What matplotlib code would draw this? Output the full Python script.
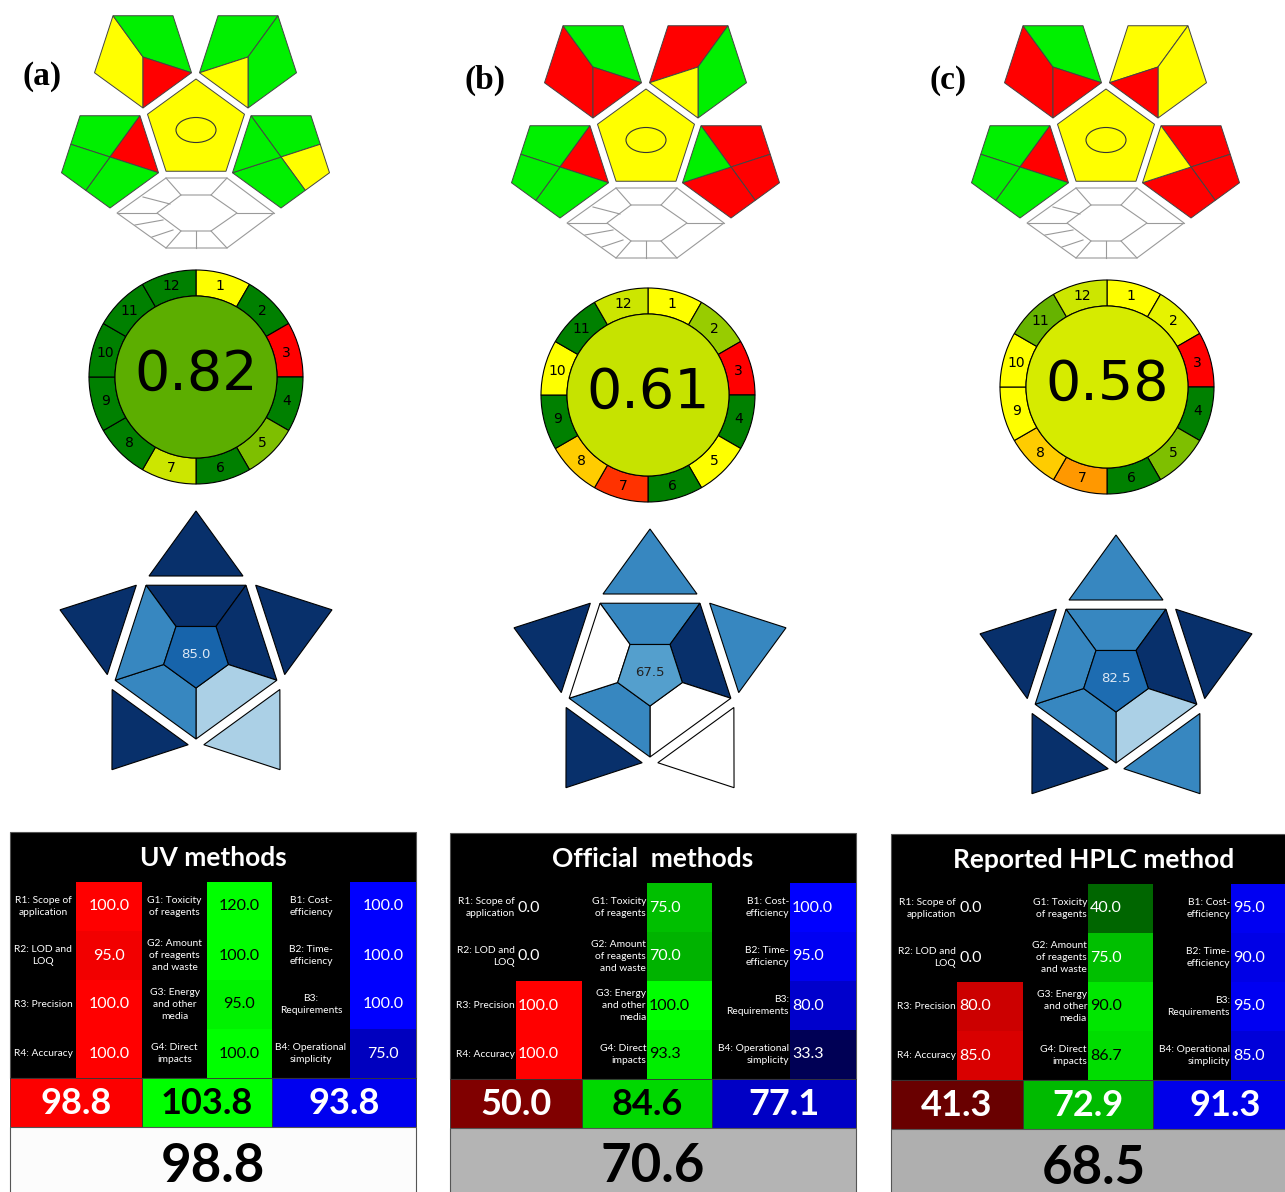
import numpy as np
import matplotlib
matplotlib.use("Agg")
import matplotlib.pyplot as plt
from matplotlib.patches import Polygon, Circle, Wedge, Ellipse, Rectangle
from matplotlib.colors import LinearSegmentedColormap


# ---------------- values ----------------
panel_labels = ["(a)", "(b)", "(c)"]

# GAPI pictograms, g = green, y = yellow, r = red
gapi_top_left = [["y", "g", "r"], ["r", "g", "r"], ["r", "g", "r"]]        # left, top, lower right
gapi_top_right = [["g", "g", "y"], ["r", "g", "y"], ["y", "y", "r"]]       # top, right, lower left
gapi_bottom_left = [["g", "r", "g", "g"], ["g", "r", "g", "g"],
                    ["g", "r", "g", "g"]]                                    # top, wedge, lower right, left
gapi_bottom_right = [["g", "y", "g", "g"], ["r", "r", "r", "g"],
                     ["r", "r", "r", "y"]]                                   # top, right, bottom, wedge
gapi_centre = ["y", "y", "y"]

# AGREE criteria 1..12 and the overall score
agree_a = [0.5, 1.0, 0.0, 1.0, 0.75, 1.0, 0.6, 1.0, 1.0, 1.0, 1.0, 1.0]
agree_b = [0.5, 0.7, 0.0, 1.0, 0.5, 1.0, 0.1, 0.4, 1.0, 0.5, 1.0, 0.6]
agree_c = [0.5, 0.55, 0.0, 1.0, 0.75, 1.0, 0.3, 0.4, 0.5, 0.5, 0.8, 0.6]
agree_total = [0.82, 0.61, 0.58]

# BAGI points, order: top, upper right, lower right, lower left, upper left
bagi_tips_a = [10, 10, 5, 10, 10]
bagi_ring_a = [10, 10, 5, 7.5, 7.5]
bagi_tips_b = [7.5, 7.5, 2.5, 10, 10]
bagi_ring_b = [7.5, 10, 2.5, 7.5, 2.5]
bagi_tips_c = [7.5, 10, 7.5, 10, 10]
bagi_ring_c = [7.5, 10, 5, 7.5, 7.5]
bagi_total = [85.0, 67.5, 82.5]

# RGB 12 tables
rgb_titles = ["UV methods", "Official  methods", "Reported HPLC method"]
red_labels = ["R1: Scope of\napplication", "R2: LOD and\nLOQ", "R3: Precision",
              "R4: Accuracy"]
green_labels = ["G1: Toxicity\nof reagents", "G2: Amount\nof reagents\nand waste",
                "G3: Energy\nand other\nmedia", "G4: Direct\nimpacts"]
blue_labels = ["B1: Cost-\nefficiency", "B2: Time-\nefficiency", "B3:\nRequirements",
               "B4: Operational\nsimplicity"]
red_a = [100.0, 95.0, 100.0, 100.0]
green_a = [120.0, 100.0, 95.0, 100.0]
blue_a = [100.0, 100.0, 100.0, 75.0]
red_b = [0.0, 0.0, 100.0, 100.0]
green_b = [75.0, 70.0, 100.0, 93.3]
blue_b = [100.0, 95.0, 80.0, 33.3]
red_c = [0.0, 0.0, 80.0, 85.0]
green_c = [40.0, 75.0, 90.0, 86.7]
blue_c = [95.0, 90.0, 95.0, 85.0]
red_mean = [98.8, 50.0, 41.3]
green_mean = [103.8, 84.6, 72.9]
blue_mean = [93.8, 77.1, 91.3]
whiteness = [98.8, 70.6, 68.5]


# ---------------- layout (pixels) ----------------
W, H = 1285, 1192
gapi_shift = [(0, 0), (450, 10), (910, 10)]
label_pos = [(42, 77), (485, 80), (948, 80)]
agree_xy = [(196, 377), (648, 395), (1107, 387)]
bagi_xy = [(196, 654), (650, 672), (1116, 678)]
table_xy = [(10, 832), (450, 833), (891, 834)]
col_w = [66, 66, 65, 65, 78, 66]

GAPI_COL = {"g": "#00f000", "y": "#ffff00", "r": "#ff0000"}
agree_cmap = LinearSegmentedColormap.from_list(
    "agree", [(0.0, "#ff0000"), (0.5, "#ffff00"), (1.0, "#008000")])
blues = plt.get_cmap("Blues")
TABLE_FONT = "Lato"

fig = plt.figure(figsize=(W / 100, H / 100), dpi=100)
ax = fig.add_axes([0, 0, 1, 1])
ax.set_xlim(0, W)
ax.set_ylim(H, 0)
ax.axis("off")


def pent(c, r, angles):
    a = np.radians(angles)
    return [np.array([c[0] + r * np.cos(t), c[1] + r * np.sin(t)]) for t in a]


DOWN = [234, 306, 18, 90, 162]   # tl, tr, right, bottom, left (y axis points down)
UP = [270, 342, 54, 126, 198]


def poly(pts, fc, ec="#444444", lw=0.7, z=2):
    ax.add_patch(Polygon(np.array(pts), closed=True, facecolor=fc,
                         edgecolor=ec, linewidth=lw, zorder=z))


def bagi_colour(pts):
    # lowest grade is drawn plain white
    if pts <= 2.5:
        return "white"
    return blues((pts - 2.5) / 7.5)


def draw_gapi(k):
    dx, dy = gapi_shift[k]
    r = 51
    # top left
    c = np.array([143 + dx, 57 + dy])
    v = pent(c, r, DOWN)
    cols = [GAPI_COL[s] for s in gapi_top_left[k]]
    poly([v[0], c, v[3], v[4]], cols[0])
    poly([v[0], v[1], v[2], c], cols[1])
    poly([c, v[2], v[3]], cols[2])
    # top right
    c = np.array([248 + dx, 57 + dy])
    v = pent(c, r, DOWN)
    cols = [GAPI_COL[s] for s in gapi_top_right[k]]
    poly([v[0], v[1], c, v[4]], cols[0])
    poly([c, v[1], v[2], v[3]], cols[1])
    poly([c, v[3], v[4]], cols[2])
    # bottom left
    c = np.array([110 + dx, 157 + dy])
    v = pent(c, r, DOWN)
    m40 = (v[4] + v[0]) / 2
    m34 = (v[3] + v[4]) / 2
    cols = [GAPI_COL[s] for s in gapi_bottom_left[k]]
    poly([v[0], v[1], c, m40], cols[0])
    poly([c, v[1], v[2]], cols[1])
    poly([c, v[2], v[3], m34], cols[2])
    poly([m40, c, m34, v[4]], cols[3])
    # bottom right
    c = np.array([281 + dx, 157 + dy])
    v = pent(c, r, DOWN)
    m12 = (v[1] + v[2]) / 2
    m23 = (v[2] + v[3]) / 2
    cols = [GAPI_COL[s] for s in gapi_bottom_right[k]]
    poly([v[0], v[1], m12, c], cols[0])
    poly([c, m12, v[2], m23], cols[1])
    poly([c, m23, v[3], v[4]], cols[2])
    poly([v[0], c, v[4]], cols[3])
    # centre
    c = np.array([196 + dx, 130 + dy])
    poly(pent(c, r, UP), GAPI_COL[gapi_centre[k]])
    ax.add_patch(Ellipse(c, 40, 25, facecolor="none", edgecolor="#333333",
                         linewidth=0.8, zorder=3))
    # hexagon (white)
    hx, hy = 196 + dx, 213 + dy
    outer = [(hx - 30, hy - 35), (hx + 31, hy - 35), (hx + 78, hy), (hx + 31, hy + 35),
             (hx - 30, hy + 35), (hx - 79, hy)]
    inner = [(hx - 15, hy - 18), (hx + 15, hy - 18), (hx + 41, hy), (hx + 15, hy + 18),
             (hx - 15, hy + 18), (hx - 39, hy)]
    poly(outer, "white", ec="#9a9a9a", lw=0.8)
    poly(inner, "white", ec="#9a9a9a", lw=0.8)
    for p, q in zip(outer, inner):
        ax.plot([p[0], q[0]], [p[1], q[1]], color="#9a9a9a", lw=0.8, zorder=3)
    for (x1, y1, x2, y2) in [(-53, -16, -26, -9), (-61, 12, -33, 7),
                             (-44, 24, -23, 17), (0, 18, 0, 35)]:
        ax.plot([hx + x1, hx + x2], [hy + y1, hy + y2], color="#9a9a9a", lw=0.8, zorder=3)
    ax.text(label_pos[k][0], label_pos[k][1], panel_labels[k], fontsize=24,
            family="Liberation Serif", weight="bold", ha="center", va="center")


def draw_agree(k, scores):
    cx, cy = agree_xy[k]
    r_out, r_in = 107, 81
    for i, s in enumerate(scores):
        t1 = -90 + 30 * i
        ax.add_patch(Wedge((cx, cy), r_out, t1, t1 + 30, width=r_out - r_in,
                           facecolor=agree_cmap(s), edgecolor="black",
                           linewidth=0.8, zorder=2))
        a = np.radians(t1 + 15)
        rm = (r_out + r_in) / 2
        ax.text(cx + rm * np.cos(a), cy + rm * np.sin(a), str(i + 1), fontsize=10,
                ha="center", va="center", zorder=4)
    ax.add_patch(Circle((cx, cy), r_in, facecolor=agree_cmap(agree_total[k]),
                        edgecolor="black", linewidth=0.8, zorder=3))
    ax.text(cx, cy - 2, "%.2f" % agree_total[k], fontsize=40, ha="center",
            va="center", zorder=4)


def draw_bagi(k, tips, ring):
    c = np.array(bagi_xy[k], dtype=float)
    R, r = 85, 34
    for i in range(5):
        a1, a2 = 234 + 72 * i, 306 + 72 * i
        o = pent(c, R, [a1, a2])
        n = pent(c, r, [a1, a2])
        poly([o[0], o[1], n[1], n[0]], bagi_colour(ring[i]), ec="black", lw=0.8)
        nrm = np.radians(270 + 72 * i)
        u = np.array([np.cos(nrm), np.sin(nrm)])
        p = np.array([-u[1], u[0]])
        base = c + 78 * u
        poly([base - 47 * p, base + 47 * p, c + 143 * u], bagi_colour(tips[i]),
             ec="black", lw=0.8)
    f = (bagi_total[k] - 25) / 75
    poly(pent(c, r, DOWN), blues(f), ec="black", lw=0.8)
    ax.text(c[0], c[1], "%.1f" % bagi_total[k], fontsize=9.5, ha="center",
            va="center", color="#dde8f4" if f > 0.7 else "#222222", zorder=4)


def draw_table(k, vals):
    x0, y0 = table_xy[k]
    xs = x0 + np.concatenate([[0], np.cumsum(col_w)])
    width = xs[-1] - x0
    row_h = 49
    ax.add_patch(Rectangle((x0, y0), width, 50 + 4 * row_h, facecolor="black",
                           edgecolor="#555555", linewidth=0.8, zorder=1))
    ax.text(x0 + width / 2, y0 + 26, rgb_titles[k], fontsize=19, weight="bold",
            family=TABLE_FONT, color="white", ha="center", va="center", zorder=4)
    labels = [red_labels, green_labels, blue_labels]
    means = [red_mean[k], green_mean[k], blue_mean[k]]
    for g in range(3):
        xl, xv = xs[2 * g], xs[2 * g + 1]
        wl, wv = col_w[2 * g], col_w[2 * g + 1]
        for i, v in enumerate(vals[g]):
            yy = y0 + 50 + i * row_h
            lev = min(v, 100) / 100
            rgb = [0, 0, 0]
            rgb[g] = lev
            if v > 0:
                ax.add_patch(Rectangle((xv, yy), wv, row_h, facecolor=rgb,
                                       edgecolor="none", zorder=2))
            tc = "black" if (g == 1 and v >= 80) else "white"
            if k == 0:
                ax.text(xl + wl / 2, yy + row_h / 2, labels[g][i], fontsize=7.4,
                        family=TABLE_FONT, color="white", ha="center", va="center",
                        linespacing=1.4, zorder=4)
                ax.text(xv + wv / 2, yy + row_h / 2, "%.1f" % v, fontsize=11.5,
                        family=TABLE_FONT, color=tc, ha="center", va="center", zorder=4)
            else:
                ax.text(xl + wl - 1, yy + row_h / 2, labels[g][i], fontsize=7.4,
                        family=TABLE_FONT, color="white", ha="right", va="center",
                        multialignment="right", linespacing=1.4, zorder=4)
                ax.text(xv + 2, yy + row_h / 2, "%.1f" % v, fontsize=11.5,
                        family=TABLE_FONT, color=tc, ha="left", va="center", zorder=4)
        # group mean
        ys = y0 + 50 + 4 * row_h
        gx = xs[2 * g]
        gw = xs[2 * g + 2] - gx
        m = means[g]
        rgb = [0, 0, 0]
        rgb[g] = min(m, 100) / 100
        ax.add_patch(Rectangle((gx, ys), gw, row_h, facecolor=rgb,
                               edgecolor="#333333", linewidth=0.6, zorder=2))
        tc = "black" if (g == 1 and m >= 80) else "white"
        ax.text(gx + gw / 2, ys + row_h / 2 + 1, "%.1f" % m, fontsize=26, weight="bold",
                family=TABLE_FONT, color=tc, ha="center", va="center", zorder=4)
    yw = y0 + 50 + 5 * row_h
    gray = whiteness[k] / 100
    ax.add_patch(Rectangle((x0, yw), width, 80, facecolor=(gray, gray, gray),
                           edgecolor="#555555", linewidth=0.8, zorder=2))
    ax.text(x0 + width / 2, yw + 39, "%.1f" % whiteness[k], fontsize=38, weight="bold",
            family=TABLE_FONT, color="black", ha="center", va="center", zorder=4)


agree_all = [agree_a, agree_b, agree_c]
bagi_all = [(bagi_tips_a, bagi_ring_a), (bagi_tips_b, bagi_ring_b),
            (bagi_tips_c, bagi_ring_c)]
table_all = [(red_a, green_a, blue_a), (red_b, green_b, blue_b),
             (red_c, green_c, blue_c)]

for k in range(3):
    draw_gapi(k)
    draw_agree(k, agree_all[k])
    draw_bagi(k, *bagi_all[k])
    draw_table(k, table_all[k])

fig.savefig("out.png", dpi=100)
